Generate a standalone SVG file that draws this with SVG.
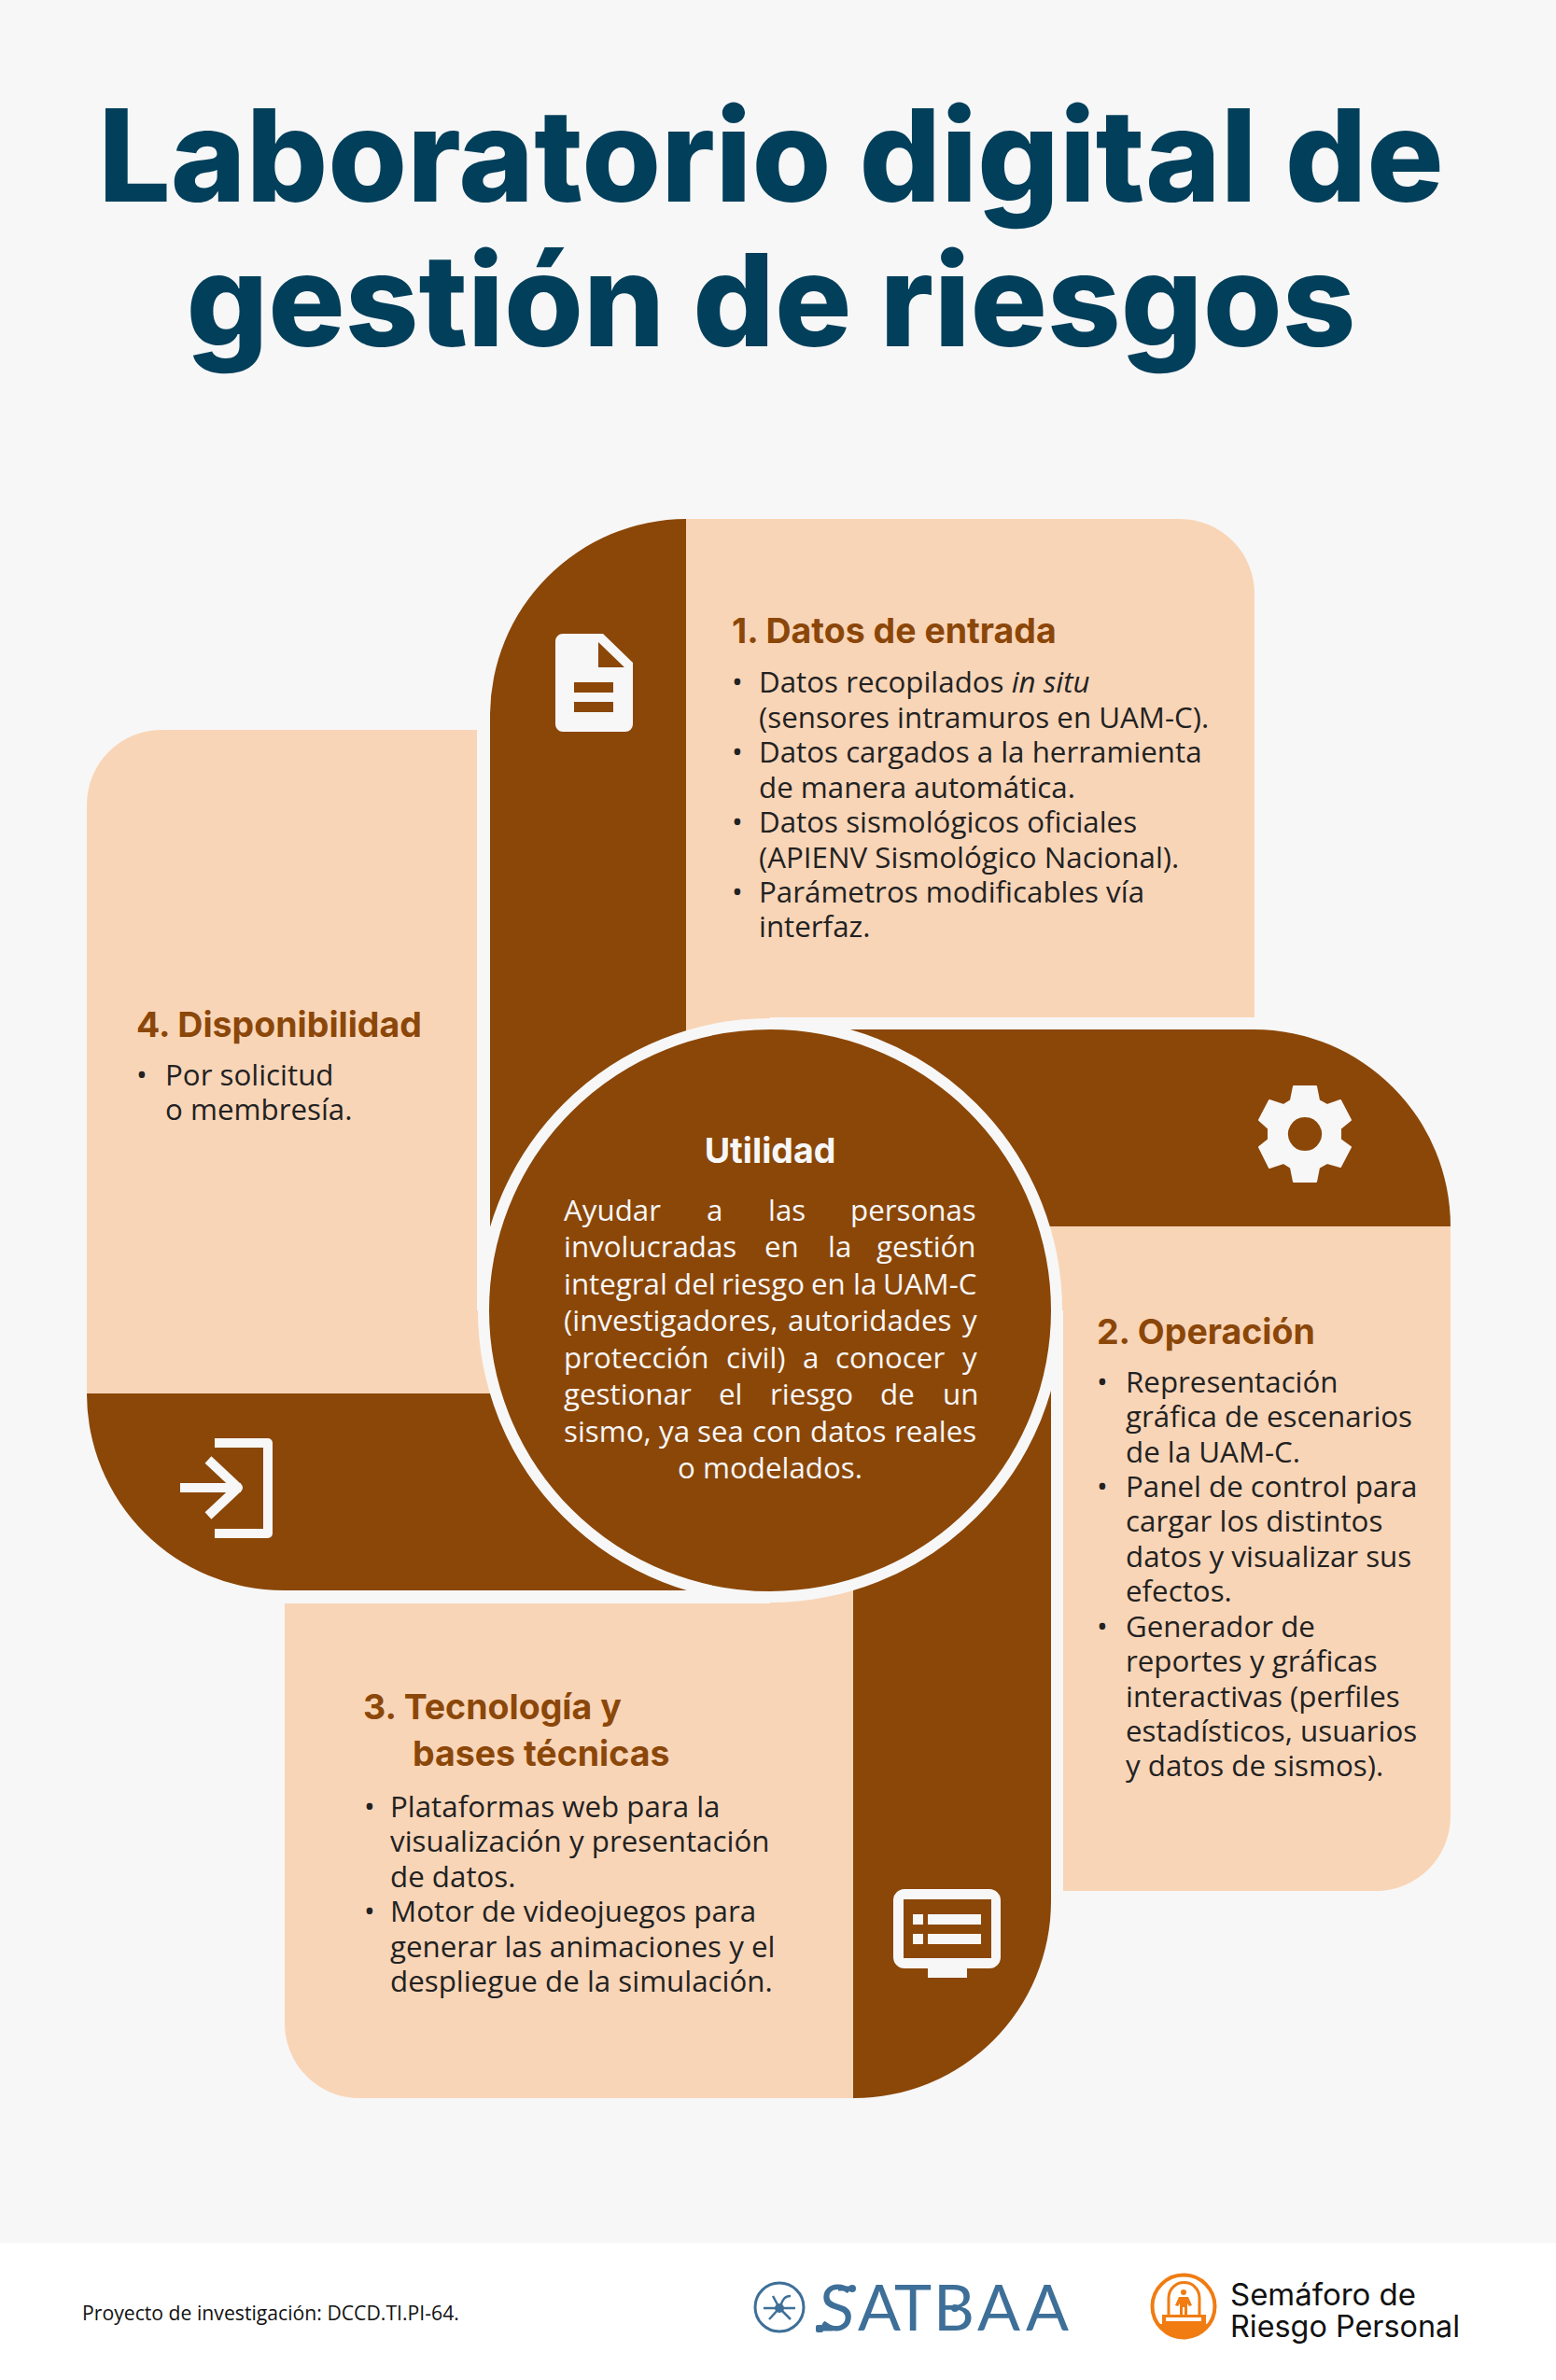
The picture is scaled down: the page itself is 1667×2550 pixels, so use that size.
<svg xmlns="http://www.w3.org/2000/svg" width="1667" height="2550" viewBox="0 0 1667 2550">
<style>
.t{font-family:"Inter","Liberation Sans",sans-serif;font-weight:800;fill:#023f5b;font-size:137.4px}
.h{font-family:"Inter","Liberation Sans",sans-serif;font-weight:700;fill:#8b4709;font-size:37.5px}
.b{font-family:"Open Sans","Liberation Sans",sans-serif;fill:#222;font-size:31.3px}
.w{font-family:"Open Sans","Liberation Sans",sans-serif;fill:#f7f7f7;font-size:31.3px}
.br{fill:#8b4708}.pe{fill:#f9d5b7}.ic{fill:#f7f7f7}
.ln{fill:none;stroke:#f7f7f7;stroke-width:10}
</style>
<rect width="1667" height="2550" fill="#f7f7f7"/>
<rect y="2403" width="1667" height="147" fill="#fff"/>
<g id="title">
<text class="t" x="826" y="216" text-anchor="middle">Laboratorio digital de</text>
<text class="t" x="826" y="371" text-anchor="middle">gestión de riesgos</text>
</g>
<g id="panel-4">
<path class="pe" d="M173,782H511V1404H600V1493H93V862A80,80 0 0 1 173,782Z"/>
<path class="br" d="M93,1493H790V1704H304A211,211 0 0 1 93,1493Z"/>
<path class="ln" d="M230,1546H287V1643H230M193,1594H258M223,1564L255,1594L223,1624" stroke-linejoin="round"/>
<text class="h" x="146" y="1111">4. Disponibilidad</text>
<text class="b" x="146" y="1163">•</text>
<text class="b" x="177" y="1163">Por solicitud</text>
<text class="b" x="177" y="1200">o membresía.</text>
</g>
<g id="panel-1">
<path class="pe" d="M735,556H1264A80,80 0 0 1 1344,636V1090H825V1200H735Z"/>
<path class="br" d="M735,556V1350H525V767A211,211 0 0 1 735,556Z"/>
<path class="ic" fill-rule="evenodd" d="M603,679H646L678,710V776A8,8 0 0 1 670,784H603A8,8 0 0 1 595,776V687A8,8 0 0 1 603,679ZM641,688V715H669ZM615,731V742H657V731ZM615,752V763H657V752Z"/>
<text class="h" x="784" y="689">1. Datos de entrada</text>
<text class="b" x="784" y="742">•</text><text class="b" x="813" y="742">Datos recopilados <tspan font-style="italic">in situ</tspan></text>
<text class="b" x="813" y="780">(sensores intramuros en UAM-C).</text>
<text class="b" x="784" y="817">•</text><text class="b" x="813" y="817">Datos cargados a la herramienta</text>
<text class="b" x="813" y="855">de manera automática.</text>
<text class="b" x="784" y="892">•</text><text class="b" x="813" y="892">Datos sismológicos oficiales</text>
<text class="b" x="813" y="930">(APIENV Sismológico Nacional).</text>
<text class="b" x="784" y="967">•</text><text class="b" x="813" y="967">Parámetros modificables vía</text>
<text class="b" x="813" y="1004">interfaz.</text>
</g>
<g id="panel-2">
<path class="pe" d="M1050,1314H1554V1946A80,80 0 0 1 1474,2026H1139V1404H1050Z"/>
<path class="br" d="M880,1103H1344A211,211 0 0 1 1554,1314H880Z"/>
<path class="ic" fill-rule="evenodd" stroke="#f7f7f7" stroke-width="2" stroke-linejoin="round" d="M1386,1164H1410L1413,1179L1422,1184L1436,1179L1447,1200L1436,1209V1221L1447,1229L1436,1250L1422,1246L1413,1251L1410,1266H1386L1383,1251L1375,1246L1360,1251L1349,1229L1359,1221V1209L1349,1200L1360,1179L1375,1184L1383,1179ZM1398,1196A19,19 0 1 0 1398.01,1196Z"/>
<text class="h" x="1175" y="1440">2. Operación</text>
<text class="b" x="1175" y="1492">•</text><text class="b" x="1206" y="1492">Representación</text>
<text class="b" x="1206" y="1529">gráfica de escenarios</text>
<text class="b" x="1206" y="1567">de la UAM-C.</text>
<text class="b" x="1175" y="1604">•</text><text class="b" x="1206" y="1604">Panel de control para</text>
<text class="b" x="1206" y="1641">cargar los distintos</text>
<text class="b" x="1206" y="1679">datos y visualizar sus</text>
<text class="b" x="1206" y="1716">efectos.</text>
<text class="b" x="1175" y="1754">•</text><text class="b" x="1206" y="1754">Generador de</text>
<text class="b" x="1206" y="1791">reportes y gráficas</text>
<text class="b" x="1206" y="1829">interactivas (perfiles</text>
<text class="b" x="1206" y="1866">estadísticos, usuarios</text>
<text class="b" x="1206" y="1903">y datos de sismos).</text>
</g>
<g id="panel-3">
<path class="pe" d="M305,1718H825V1600H914V2248H385A80,80 0 0 1 305,2168Z"/>
<path class="br" d="M914,1480H1126V2037A211,211 0 0 1 914,2248Z"/>
<path class="ic" fill-rule="evenodd" d="M969,2024H1060A12,12 0 0 1 1072,2036V2097A12,12 0 0 1 1060,2109H1036V2119H994V2109H969A12,12 0 0 1 957,2097V2036A12,12 0 0 1 969,2024ZM968,2035V2098H1062V2035ZM978,2051V2062H989V2051ZM994,2051V2062H1051V2051ZM978,2072V2083H989V2072ZM994,2072V2083H1051V2072Z"/>
<text class="h" x="389" y="1842">3. Tecnología y</text>
<text class="h" x="442" y="1892">bases técnicas</text>
<text class="b" x="390" y="1947">•</text><text class="b" x="418" y="1947">Plataformas web para la</text>
<text class="b" x="418" y="1984">visualización y presentación</text>
<text class="b" x="418" y="2022">de datos.</text>
<text class="b" x="390" y="2059">•</text><text class="b" x="418" y="2059">Motor de videojuegos para</text>
<text class="b" x="418" y="2097">generar las animaciones y el</text>
<text class="b" x="418" y="2134">despliegue de la simulación.</text>
</g>
<g id="center">
<circle cx="825" cy="1404" r="307" fill="#8b4708" stroke="#f7f7f7" stroke-width="12"/>
<text class="h" x="825" y="1246" text-anchor="middle" style="fill:#f7f7f7">Utilidad</text>
<text class="w" y="1308"><tspan x="604">Ayudar</tspan><tspan x="757">a</tspan><tspan x="823">las</tspan><tspan x="911">personas</tspan></text>
<text class="w" y="1347"><tspan x="604">involucradas</tspan><tspan x="819">en</tspan><tspan x="887">la</tspan><tspan x="939">gestión</tspan></text>
<text class="w" y="1387"><tspan x="604">integral</tspan><tspan x="722">del</tspan><tspan x="773">riesgo</tspan><tspan x="869">en</tspan><tspan x="914">la</tspan><tspan x="946">UAM-C</tspan></text>
<text class="w" y="1426"><tspan x="604">(investigadores,</tspan><tspan x="844">autoridades</tspan><tspan x="1031">y</tspan></text>
<text class="w" y="1466"><tspan x="604">protección</tspan><tspan x="778">civil)</tspan><tspan x="860">a</tspan><tspan x="895">conocer</tspan><tspan x="1031">y</tspan></text>
<text class="w" y="1505"><tspan x="604">gestionar</tspan><tspan x="770">el</tspan><tspan x="825">riesgo</tspan><tspan x="943">de</tspan><tspan x="1010">un</tspan></text>
<text class="w" y="1545"><tspan x="604">sismo,</tspan><tspan x="706">ya</tspan><tspan x="747">sea</tspan><tspan x="806">con</tspan><tspan x="868">datos</tspan><tspan x="958">reales</tspan></text>
<text class="w" x="825" y="1584" text-anchor="middle">o modelados.</text>
</g>
<g id="footer">
<text x="88" y="2486" font-family="'Open Sans','Liberation Sans',sans-serif" font-size="21.2" fill="#111">Proyecto de investigación: DCCD.TI.PI-64.</text>
</g>
<g id="logo-satbaa" fill="#3e6f98" stroke="#3e6f98">
<circle cx="835" cy="2472" r="26" fill="none" stroke-width="3"/>
<circle cx="835" cy="2473" r="5" stroke="none"/>
<path fill="none" stroke-width="2.5" d="M818,2473H852M828,2460L835,2473M847,2460C838,2460 838,2468 835,2473M824,2485L835,2473M847,2485L835,2473"/>
<text y="2497" font-family="Lato,'Liberation Sans',sans-serif" font-size="68" stroke="none" x="878 919 958 1000 1047 1099">SATBAA</text>
<path fill="none" stroke-width="5" d="M898,2452H913M878,2495H892"/>
<circle cx="913" cy="2452" r="4" stroke="none"/><circle cx="1023" cy="2473" r="4" stroke="none"/>
<rect x="874" y="2491" width="8" height="8" rx="2" stroke="none"/>
</g>
<g id="logo-semaforo">
<circle cx="1268" cy="2471" r="33.5" fill="#fff" stroke="#f07c12" stroke-width="4"/>
<path fill="#f07c12" d="M1241,2490H1295A33,33 0 0 1 1241,2490Z"/>
<path fill="none" stroke="#f07c12" stroke-width="3" d="M1252,2480V2462A16,16 0 0 1 1285,2462V2480"/>
<path fill="#f07c12" fill-rule="evenodd" d="M1245,2480H1292V2492H1245ZM1249,2483V2487H1287V2483Z"/>
<circle cx="1268" cy="2456" r="3" fill="#f07c12"/>
<path fill="#f07c12" d="M1263,2461H1273L1277,2470L1274,2471L1272,2468V2480H1269V2472H1267V2480H1264V2468L1262,2471L1259,2470Z"/>
<text x="1318" y="2470" font-family="Inter,'Noto Sans',sans-serif" font-size="32" fill="#111" textLength="199" lengthAdjust="spacingAndGlyphs">Semáforo de</text>
<text x="1318" y="2504" font-family="Inter,'Noto Sans',sans-serif" font-size="32" fill="#111" textLength="246" lengthAdjust="spacingAndGlyphs">Riesgo Personal</text>
</g>
</svg>
